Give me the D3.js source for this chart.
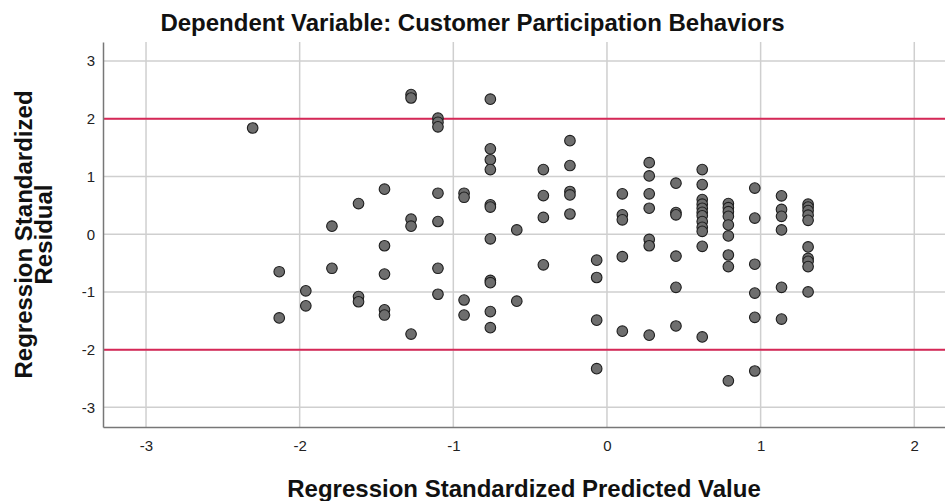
<!DOCTYPE html>
<html>
<head>
<meta charset="utf-8">
<script src="https://cdn.jsdelivr.net/npm/d3@7"></script>
<style>
  body { margin: 0; background: #fff; }
  svg { display: block; font-family: "Liberation Sans", Arial, sans-serif; }
  .grid line { stroke: #cfcfcf; stroke-width: 1.5; }
  .tick text { fill: #222; font-size: 15px; }
</style>
</head>
<body>
<script>
// predicted values come in discrete columns, residuals listed per column
const predicted = [-2.306, -2.133, -1.96, -1.79, -1.617, -1.448, -1.275, -1.10, -0.93, -0.759, -0.587,
  -0.414, -0.241, -0.067, 0.10, 0.275, 0.449, 0.62, 0.79, 0.962, 1.136, 1.309];
const residuals = [
  [1.84],
  [-0.65, -1.45],
  [-0.98, -1.24],
  [0.14, -0.59],
  [0.53, -1.08, -1.17],
  [0.78, -0.20, -0.69, -1.31, -1.40],
  [2.42, 2.36, 0.26, 0.14, -1.73],
  [2.01, 1.94, 1.86, 0.71, 0.22, -0.59, -1.04],
  [0.71, 0.64, -1.14, -1.40],
  [2.34, 1.48, 1.29, 1.12, 0.51, 0.47, -0.08, -0.80, -0.84, -1.34, -1.62],
  [0.075, -1.16],
  [1.12, 0.67, 0.29, -0.53],
  [1.62, 1.19, 0.74, 0.68, 0.35],
  [-0.45, -0.75, -1.49, -2.33],
  [0.70, 0.335, 0.25, -0.39, -1.68],
  [1.24, 1.01, 0.70, 0.45, -0.09, -0.20, -1.75],
  [0.885, 0.375, 0.335, -0.38, -0.92, -1.59],
  [1.12, 0.86, 0.60, 0.52, 0.45, 0.38, 0.32, 0.22, 0.12, 0.05, -0.21, -1.78],
  [0.53, 0.46, 0.39, 0.31, 0.16, -0.03, -0.36, -0.56, -2.54],
  [0.80, 0.28, -0.52, -1.02, -1.44, -2.37],
  [0.665, 0.43, 0.31, 0.075, -0.92, -1.47],
  [0.52, 0.47, 0.41, 0.33, 0.24, -0.22, -0.42, -0.47, -0.56, -1.0]
];
const xTicks = [-3, -2, -1, 0, 1, 2];
const yTicks = [-3, -2, -1, 0, 1, 2, 3];
const refLines = [2, -2];

const title = "Dependent Variable: Customer Participation Behaviors";
const xTitle = "Regression Standardized Predicted Value";
const yTitle = ["Regression Standardized", "Residual"];

const W = 945, H = 501;
const margin = { top: 42, right: 0, bottom: 74, left: 103 };
const width = W - margin.left - margin.right;
const height = H - margin.top - margin.bottom;

const points = [];
predicted.forEach((p, i) => residuals[i].forEach(r => points.push({ x: p, y: r })));

const svg = d3.select("body").append("svg").attr("width", W).attr("height", H);
const g = svg.append("g").attr("transform", `translate(${margin.left},${margin.top})`);

const x = d3.scaleLinear().domain([-3.28, 2.2]).range([0, width]);
const y = d3.scaleLinear().domain([-3.34, 3.33]).range([height, 0]);

// grid lines
g.append("g").attr("class", "grid")
  .selectAll("line").data(xTicks).join("line")
  .attr("x1", d => x(d)).attr("x2", d => x(d))
  .attr("y1", 0).attr("y2", height);
g.append("g").attr("class", "grid")
  .selectAll("line").data(yTicks).join("line")
  .attr("x1", 0).attr("x2", width)
  .attr("y1", d => y(d)).attr("y2", d => y(d));

// reference lines at +-2
g.selectAll(".ref").data(refLines).join("line")
  .attr("class", "ref")
  .attr("x1", 0).attr("x2", width)
  .attr("y1", d => y(d)).attr("y2", d => y(d))
  .attr("stroke", "#d62857").attr("stroke-width", 2);

// axes (SPSS style: hyphen minus, no tick marks)
const fmt = d => String(d);
const xAxis = d3.axisBottom(x).tickValues(xTicks).tickSize(0).tickPadding(13).tickFormat(fmt);
const yAxis = d3.axisLeft(y).tickValues(yTicks).tickSize(0).tickPadding(8).tickFormat(fmt);
g.append("g").attr("transform", `translate(0,${height})`).call(xAxis)
  .call(a => a.select(".domain").attr("stroke", "#777").attr("stroke-width", 1.5));
g.append("g").call(yAxis)
  .call(a => a.select(".domain").attr("stroke", "#777").attr("stroke-width", 1.5));
svg.selectAll(".tick text").attr("font-family", null).attr("font-size", null);

// points
g.append("g").selectAll("circle").data(points).join("circle")
  .attr("cx", d => x(d.x)).attr("cy", d => y(d.y))
  .attr("r", 5.3)
  .attr("fill", "#6e6e6e")
  .attr("stroke", "#1e1e1e")
  .attr("stroke-width", 1.1);

// titles
svg.append("text")
  .attr("x", W / 2).attr("y", 31)
  .attr("text-anchor", "middle")
  .attr("font-size", 24).attr("font-weight", "bold")
  .attr("fill", "#111")
  .text(title);

svg.append("text")
  .attr("x", margin.left + width / 2).attr("y", 497)
  .attr("text-anchor", "middle")
  .attr("font-size", 24).attr("font-weight", "bold")
  .attr("fill", "#111")
  .text(xTitle);

svg.append("g")
  .attr("transform", `translate(0,${margin.top + height / 2}) rotate(-90)`)
  .selectAll("text").data(yTitle).join("text")
  .attr("x", 0).attr("y", (d, i) => 32 + i * 20)
  .attr("text-anchor", "middle")
  .attr("font-size", 24).attr("font-weight", "bold")
  .attr("fill", "#111")
  .text(d => d);
</script>
</body>
</html>
